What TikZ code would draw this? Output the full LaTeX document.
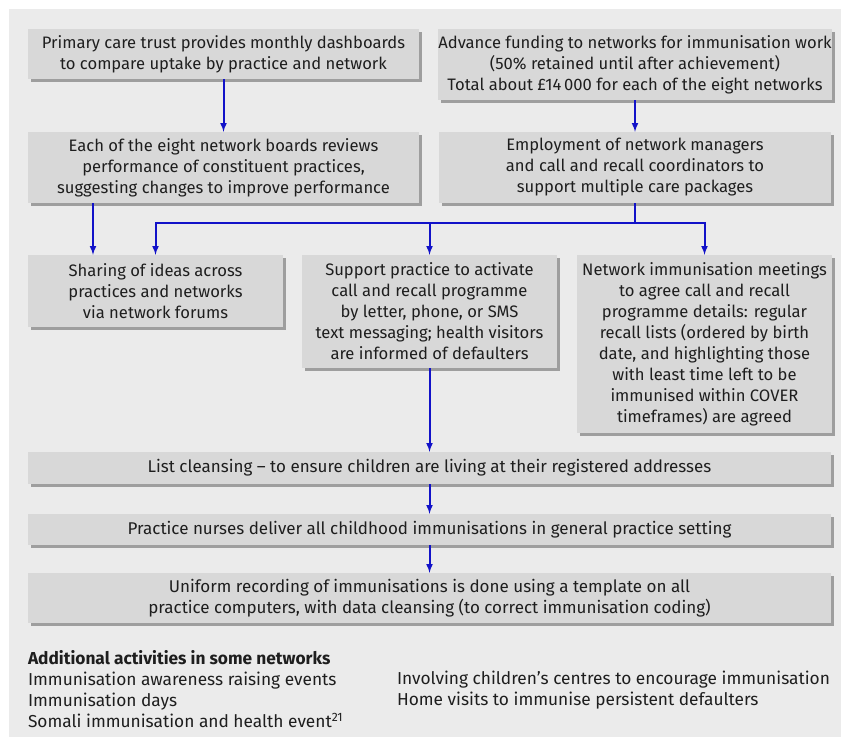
\documentclass[tikz,border=0pt]{standalone}
\usepackage{fontspec}
\setmainfont{Fira Sans}
\usetikzlibrary{shapes.geometric, arrows, shadows}
\definecolor{pagegray}{RGB}{235,235,235}
\definecolor{boxgray}{RGB}{216,216,216}
\definecolor{shadegray}{RGB}{158,158,158}
\definecolor{linkblue}{RGB}{18,18,200}
\definecolor{inkgray}{RGB}{30,30,30}
\tikzstyle{arrow} = [line width=2pt, draw=linkblue, ->, >=latex]
\tikzstyle{link} = [line width=2pt, draw=linkblue]
\tikzstyle{box} = [rectangle, fill=boxgray, text=inkgray, inner sep=0pt, align=center, font=\fontsize{16.6}{21}\selectfont, general shadow={fill=shadegray, shadow xshift=3pt, shadow yshift=-3pt}]
\tikzstyle{widebox} = [box, minimum width=803pt, font=\fontsize{17}{21}\selectfont]
\tikzstyle{notes} = [text=inkgray, inner sep=0pt, align=left, font=\fontsize{17.3}{21}\selectfont]

\begin{document}
\begin{tikzpicture}[x=1pt, y=-1pt, node distance=100pt]

\useasboundingbox (0,0) rectangle (841,740);
\fill[pagegray] (9,9) rectangle (841,737);

\node (dash) [box, minimum width=391pt, minimum height=50pt] at (223.5,54) {Primary care trust provides monthly dashboards\\to compare uptake by practice and network};
\node (fund) [box, minimum width=392pt, minimum height=71pt, right of=dash, xshift=311.5pt, yshift=-10.5pt] {Advance funding to networks for immunisation work\\(50\% retained until after achievement)\\Total about £14\,000 for each of the eight networks};
\node (boards) [box, minimum width=391pt, minimum height=71pt, below of=dash, yshift=-13.5pt] {Each of the eight network boards reviews\\performance of constituent practices,\\suggesting changes to improve performance};
\node (staff) [box, minimum width=392pt, minimum height=71pt, below of=fund, yshift=-3pt] {Employment of network managers\\and call and recall coordinators to\\support multiple care packages};
\node (share) [box, minimum width=255pt, minimum height=72pt, below of=boards, xshift=-68pt, yshift=-23.5pt] {Sharing of ideas across\\practices and networks\\via network forums};
\node (support) [box, minimum width=255pt, minimum height=113pt, right of=share, xshift=174pt, yshift=-20.5pt] {Support practice to activate\\call and recall programme\\by letter, phone, or SMS\\text messaging; health visitors\\are informed of defaulters};
\node (meet) [box, minimum width=255pt, minimum height=178pt, right of=support, xshift=175pt, yshift=-32.5pt] {Network immunisation meetings\\to agree call and recall\\programme details: regular\\recall lists (ordered by birth\\date, and highlighting those\\with least time left to be\\immunised within COVER\\timeframes) are agreed};
\node (clean) [widebox, minimum height=32pt, below of=support, yshift=-56.5pt] {List cleansing – to ensure children are living at their registered addresses};
\node (nurse) [widebox, minimum height=31pt, below of=clean, yshift=38.5pt] {Practice nurses deliver all childhood immunisations in general practice setting};
\node (record) [widebox, minimum height=50pt, below of=nurse, yshift=31.5pt] {Uniform recording of immunisations is done using a template on all\\practice computers, with data cleansing (to correct immunisation coding)};

\node (leftnotes) [notes, anchor=north west] at ([yshift=-27pt]record.south west) {{\bfseries Additional activities in some networks}\\Immunisation awareness raising events\\Immunisation days\\Somali immunisation and health event\textsuperscript{21}};
\node (rightnotes) [notes, anchor=north west] at ([xshift=369pt, yshift=-48pt]record.south west) {Involving children’s centres to encourage immunisation\\Home visits to immunise persistent defaulters};

\node[coordinate] (split) [below of=staff, yshift=44.5pt] {};
\node[coordinate] (l_boards) [below of=boards, xshift=-130.5pt, yshift=64.5pt] {};

\draw [arrow] (dash) -- (boards);
\draw [arrow] (fund) -- (staff);
\draw [arrow] (l_boards) -- (l_boards |- share.north);
\draw [link] (staff) -- (split);
\draw [arrow] (split) -| (share.north);
\draw [arrow] (split) -| (support.north);
\draw [arrow] (split) -| (meet.north);
\draw [arrow] (support) -- (clean);
\draw [arrow] (clean) -- (nurse);
\draw [arrow] (nurse) -- (record);
\end{tikzpicture}
\end{document}
